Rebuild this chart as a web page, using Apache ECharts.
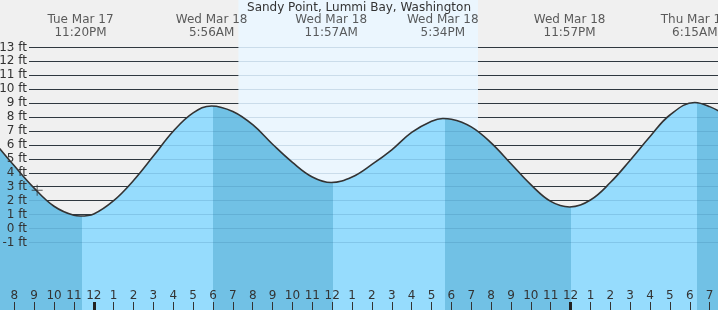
<!DOCTYPE html>
<html>
<head>
<meta charset="utf-8">
<script src="https://cdn.jsdelivr.net/npm/echarts@6/dist/echarts.min.js"></script>
<style>
  html, body { margin: 0; padding: 0; background: #f0f0f0; }
  #chart { width: 718px; height: 310px; }
</style>
</head>
<body>
<div id="chart"></div>
<script>
// hours are counted from Wed Mar 18 00:00 local time
const tideHours = [-5, -4, -3, -2, -1, -0.67, 0, 1, 2, 3, 4, 5, 5.93, 7, 8, 9, 10, 11, 11.95,
  13, 14, 15, 16, 17, 17.57, 18, 19, 20, 21, 22, 23, 23.95, 25, 26, 27, 28, 29, 30.25, 31, 32];
const tideFeet = [6.2, 4.5, 2.9, 1.6, 0.95, 0.9, 1.05, 2.0, 3.45, 5.2, 6.98, 8.3, 8.8, 8.4, 7.45, 6.05, 4.75, 3.7, 3.3,
  3.7, 4.6, 5.65, 6.9, 7.7, 7.9, 7.85, 7.3, 6.15, 4.65, 3.15, 1.95, 1.55, 2.05, 3.3, 4.9, 6.6, 8.15, 9.05, 8.75, 8.0];

const extremeHours = [-0.667, 5.933, 11.95, 17.567, 23.95, 30.25];
const extremeLabels = ['Tue Mar 17\n11:20PM', 'Wed Mar 18\n5:56AM', 'Wed Mar 18\n11:57AM',
  'Wed Mar 18\n5:34PM', 'Wed Mar 18\n11:57PM', 'Thu Mar 19\n6:15AM'];
const bandEdges = [-0.59, 6.01, 12.05, 17.68, 24.02, 30.36];
const daylight = [7.28, 19.34];
const midnights = [0, 24];
const nowPoint = [-2.85, 2.75];
const hourRange = [-4.72, 31.42];   // visible window
const footRange = [-1, 13];

const hourTicks = [];
for (let h = Math.ceil(hourRange[0]); h <= Math.floor(hourRange[1]); h++) hourTicks.push(h);

const FONT = 'DejaVu Sans';
const TEXT = '#333';
const DARK = '#71c1e5';
const LIGHT = '#96dcfd';

const chart = echarts.init(document.getElementById('chart'));

const pieces = [{ lt: bandEdges[0], color: DARK }];
bandEdges.forEach((e, i) => {
  const p = { gte: e, color: i % 2 === 0 ? LIGHT : DARK };
  if (i < bandEdges.length - 1) p.lt = bandEdges[i + 1];
  pieces.push(p);
});

const tideData = tideHours.map((h, i) => [h, tideFeet[i]]);

const hourLabel = (v) => {
  const h = ((v % 12) + 12) % 12;
  return h === 0 ? '12' : String(h);
};

const hiddenX = (gridIndex) => ({
  type: 'value', gridIndex, min: hourRange[0], max: hourRange[1], show: false,
});

const grid = (top, bottom, left = 0) => ({
  left, right: 0, top, bottom, outerBoundsMode: 'none', containLabel: false,
});

const option = {
  animation: false,
  backgroundColor: '#f0f0f0',
  textStyle: { fontFamily: FONT },
  title: {
    text: 'Sandy Point, Lummi Bay, Washington',
    left: 'center',
    top: 2,
    padding: 0,
    textStyle: { fontSize: 12, fontWeight: 'normal', color: TEXT, fontFamily: FONT },
  },
  grid: [
    grid(0, 0),            // background + hour axis
    grid(33.5, -2.1),      // tide fill
    grid(47.4, 67.6, 29),  // foot lines
  ],
  xAxis: [
    {
      type: 'value', gridIndex: 0, min: hourRange[0], max: hourRange[1], position: 'bottom', z: 5,
      axisLine: { show: false },
      splitLine: { show: false },
      axisTick: { inside: true, length: 8, customValues: hourTicks, lineStyle: { color: TEXT, width: 1 } },
      axisLabel: {
        inside: true, margin: 8, fontSize: 12, color: TEXT, fontFamily: FONT,
        customValues: hourTicks, formatter: hourLabel,
      },
    },
    {
      type: 'value', gridIndex: 0, min: hourRange[0], max: hourRange[1], position: 'bottom', z: 6,
      axisLine: { show: false },
      splitLine: { show: false },
      axisLabel: { show: false },
      axisTick: { inside: true, length: 8, customValues: midnights, lineStyle: { color: '#222', width: 3 } },
    },
    hiddenX(1),
    { type: 'value', gridIndex: 2, min: 0, max: 1, show: false },
  ],
  yAxis: [
    { type: 'value', gridIndex: 0, min: 0, max: 1, show: false },
    { type: 'value', gridIndex: 1, min: -6, max: 14, show: false },
    {
      type: 'value', gridIndex: 2, position: 'left', min: footRange[0], max: footRange[1], interval: 1, z: 0,
      axisLine: { show: false }, axisTick: { show: false }, axisLabel: { show: false },
      splitLine: { show: true, lineStyle: { color: '#333', width: 1 } },
    },
    {
      type: 'value', gridIndex: 2, position: 'left', min: footRange[0], max: footRange[1], interval: 1, z: 3,
      axisLine: { show: false }, axisTick: { show: false }, axisLabel: { show: false },
      splitLine: { show: true, lineStyle: { color: 'rgba(30,90,130,0.16)', width: 1 } },
    },
    {
      type: 'value', gridIndex: 2, position: 'left', min: footRange[0], max: footRange[1], interval: 1, z: 6,
      axisLine: { show: false }, axisTick: { show: false }, splitLine: { show: false },
      axisLabel: { margin: 2, fontSize: 12, color: TEXT, fontFamily: FONT, formatter: '{value} ft' },
    },
  ],
  visualMap: {
    type: 'piecewise', show: false, dimension: 0, seriesIndex: 2, pieces,
  },
  series: [
    {
      name: 'daylight', type: 'line', xAxisIndex: 0, yAxisIndex: 0, data: [], z: -1,
      markArea: {
        silent: true,
        itemStyle: { color: '#ebf6fe' },
        data: [[{ xAxis: daylight[0] }, { xAxis: daylight[1] }]],
      },
    },
    {
      name: 'extremes', type: 'scatter', xAxisIndex: 0, yAxisIndex: 0, z: 6,
      symbolSize: 0, clip: false,
      data: extremeHours.map((h) => [h, 1]),
      label: {
        show: true, position: 'bottom', distance: 13,
        formatter: (p) => extremeLabels[p.dataIndex],
        fontSize: 12, lineHeight: 13, color: TEXT, fontFamily: FONT, align: 'center',
      },
    },
    {
      name: 'fill', type: 'line', xAxisIndex: 2, yAxisIndex: 1, data: tideData, z: 2,
      smooth: 0.4, symbol: 'none',
      lineStyle: { width: 0 },
      areaStyle: { opacity: 1, origin: 'start' },
    },
    {
      name: 'tide', type: 'line', xAxisIndex: 2, yAxisIndex: 1, data: tideData, z: 4,
      smooth: 0.4, symbol: 'none',
      lineStyle: { color: '#333', width: 1.6 },
    },
    {
      name: 'now', type: 'scatter', xAxisIndex: 2, yAxisIndex: 1, z: 6,
      symbol: 'path://M5,0H6V5H11V6H6V11H5V6H0V5H5Z', symbolSize: 11,
      itemStyle: { color: '#333' },
      data: [nowPoint],
    },
  ],
};

chart.setOption(option);
</script>
</body>
</html>
